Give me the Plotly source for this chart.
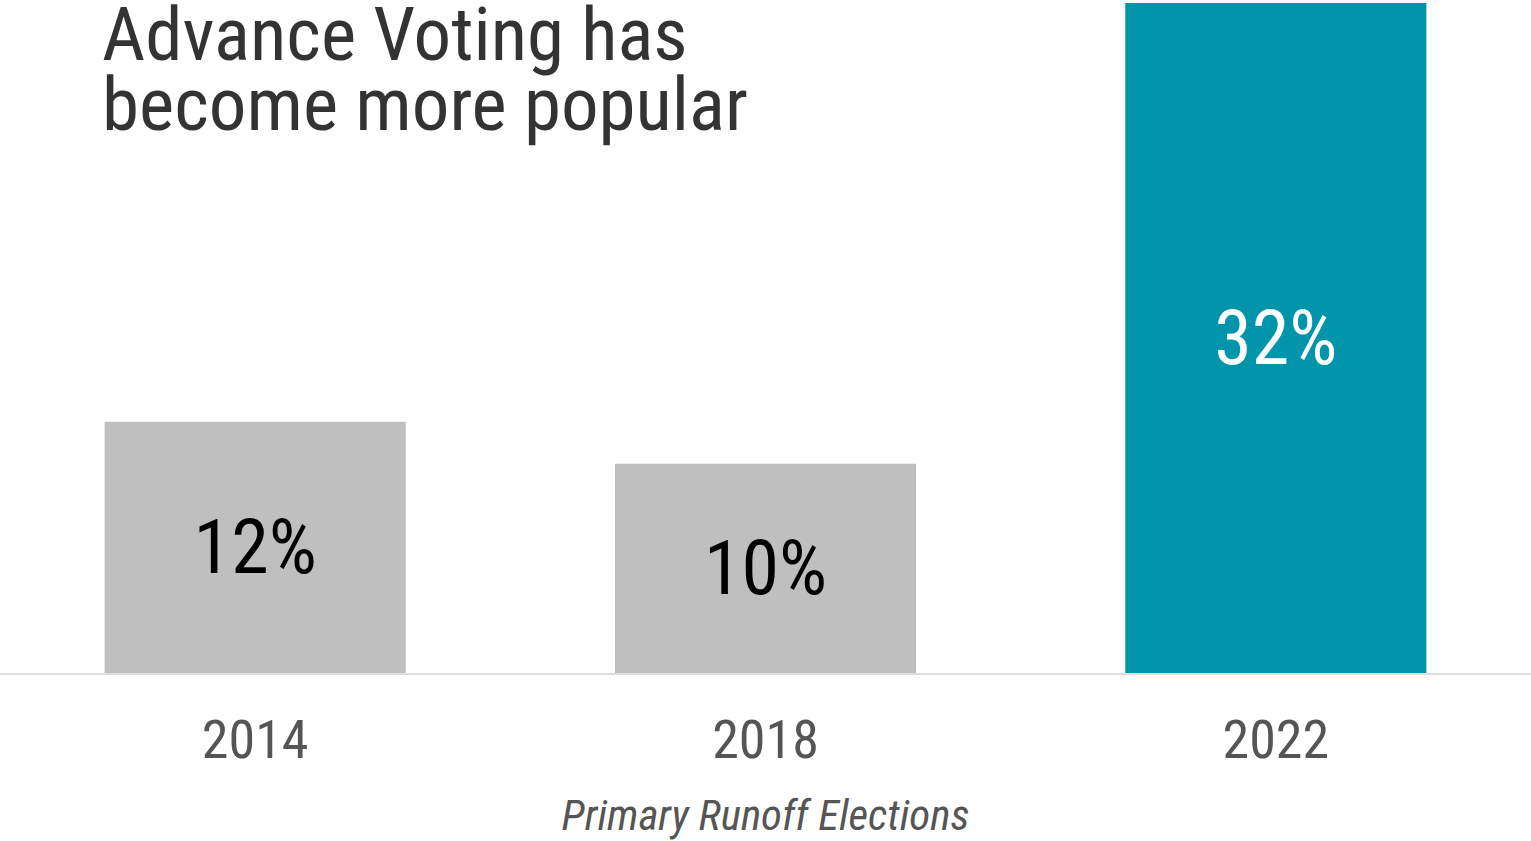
import plotly.graph_objects as go

years = ["2014", "2018", "2022"]
shares = [12, 10, 32]
labels = ["12%", "10%", "32%"]
colors = ["#bfbfbf", "#bfbfbf", "#0095ab"]
label_colors = ["#000000", "#000000", "#ffffff"]
title_lines = ["Advance Voting has", "become more popular"]
x_title = "Primary Runoff Elections"

FONT = "Roboto Condensed, Roboto, sans-serif"
W, H = 1531, 841
T, B = 3, 168
PH = H - T - B

fig = go.Figure(
    go.Bar(
        x=years,
        y=shares,
        text=labels,
        textposition="inside",
        insidetextanchor="middle",
        textangle=0,
        textfont=dict(family=FONT, size=76, color=label_colors),
        marker=dict(color=colors, line=dict(width=0)),
        width=0.59,
        hoverinfo="skip",
    )
)

def py(px):
    return (H - B - px) / PH

for line, ypx in zip(title_lines, [34, 104]):
    fig.add_annotation(
        text=line, xref="paper", yref="paper", x=100 / W, y=py(ypx),
        xanchor="left", yanchor="middle", showarrow=False,
        font=dict(family=FONT, size=75, color="#333333"),
    )

fig.update_layout(
    width=W, height=H,
    margin=dict(l=0, r=0, t=T, b=B),
    paper_bgcolor="white", plot_bgcolor="white",
    showlegend=False,
    uniformtext=dict(mode=False),
    xaxis=dict(
        range=[-0.5, 2.5], showgrid=False, zeroline=False,
        showline=True, linecolor="#dddddd", linewidth=2,
        ticks="outside", ticklen=18, tickcolor="rgba(0,0,0,0)",
        tickfont=dict(family=FONT, size=54, color="#555555"),
        title=dict(text=x_title, standoff=30,
                   font=dict(family=FONT, size=43, color="#555555", style="italic")),
    ),
    yaxis=dict(range=[0, 32], visible=False),
)

fig.write_html("out.html")
